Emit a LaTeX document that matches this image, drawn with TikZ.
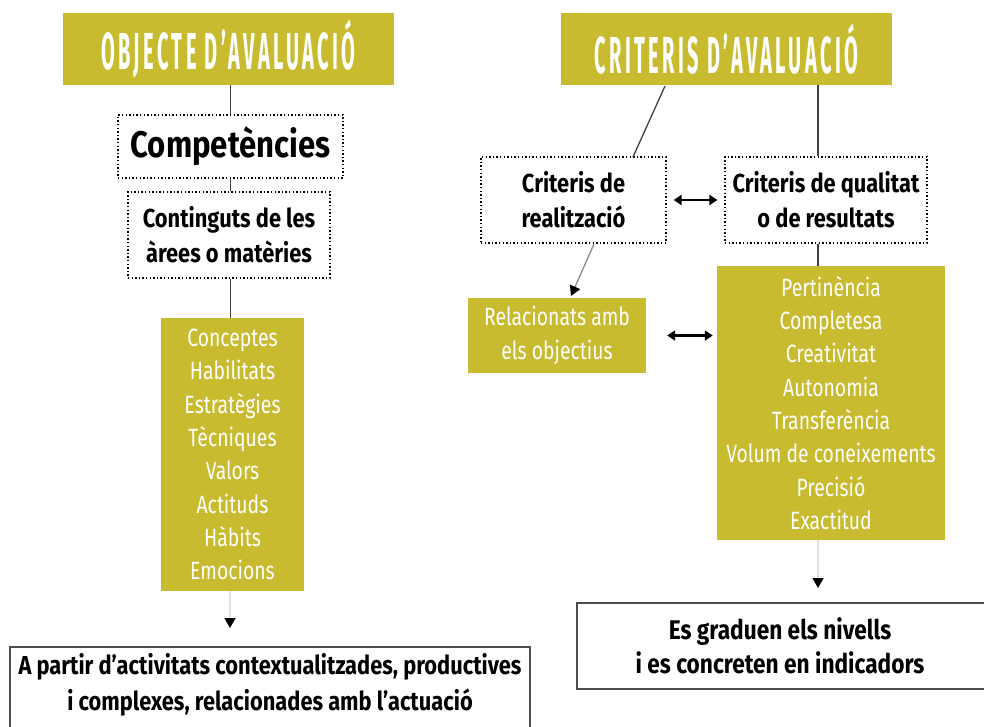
\documentclass[tikz,border=0pt]{standalone}
\usepackage{fontspec}
\setmainfont[FakeStretch=0.775]{Fira Sans}
\newfontfamily\boldfont[FakeStretch=0.84]{Fira Sans}
\newfontfamily\titlefont[FakeStretch=0.385, LetterSpace=6.5]{Fira Sans}
\usetikzlibrary{arrows.meta}
\definecolor{olive}{HTML}{C8BB2F}
\tikzset{
  titlebox/.style={fill=olive, minimum width=331pt, minimum height=72pt, inner sep=0pt,
    text=white, font=\titlefont\bfseries\fontsize{52}{52}\selectfont},
  dotbox/.style={draw, line width=1.3pt, dash pattern=on 1.4pt off 2.2pt, inner sep=0pt,
    align=center, font=\boldfont\bfseries\fontsize{26}{35}\selectfont},
  olivebox/.style={fill=olive, inner sep=0pt, text=white, align=center,
    font=\fontsize{25}{33.3}\selectfont},
  plainbox/.style={inner sep=0pt, align=center, font=\boldfont\bfseries\fontsize{26}{36}\selectfont},
  conn/.style={line width=1.3pt, draw=black!75},
  tip/.style={-{Triangle[length=10pt,width=11pt,color=black]}},
  dbl/.style={line width=2.2pt, {Triangle[length=8pt,width=10pt]}-{Triangle[length=8pt,width=10pt]}},
  boxline/.style={line width=1.2pt, draw=black!70}
}
\begin{document}
\begin{tikzpicture}[x=1pt,y=-1pt]
\useasboundingbox (0,0) rectangle (984,727);
% left column
\node[titlebox] (t1) at (228.5,49) {OBJECTE D’AVALUACIÓ};
\node[dotbox, minimum width=225pt, minimum height=63pt, font=\boldfont\bfseries\fontsize{37}{37}\selectfont] (comp) at (230.5,146.5) {Competències};
\node[dotbox, minimum width=202pt, minimum height=86pt] (cont) at (229,235) {Continguts de les\\àrees o matèries};
\node[olivebox, minimum width=143pt, minimum height=273pt] (list1) at (232.5,454.5) {Conceptes\\Habilitats\\Estratègies\\Tècniques\\Valors\\Actituds\\Hàbits\\Emocions};
\node[plainbox, minimum width=520pt, minimum height=70pt] (bot1) at (270,685) {A partir d’activitats contextualitzades, productives\\i complexes, relacionades amb l’actuació};
\coordinate (a1) at (230,628);
\draw[conn] (t1.south -| comp.north) -- (comp.north);
\draw[conn] (comp.south) -- (cont.north -| comp.south);
\draw[conn] (cont.south -| comp.south) -- (list1.north -| comp.south);
\draw[line width=1.3pt, draw=black!12, tip] (list1.south -| a1) -- (a1);
\draw[boxline] (10,727) -- (10,647) -- (530,647) -- (530,727);
% right column
\node[titlebox] (t2) at (726.5,49) {CRITERIS D’AVALUACIÓ};
\node[dotbox, minimum width=185pt, minimum height=86pt] (real) at (573.5,200) {Criteris de\\realització};
\node[dotbox, minimum width=202pt, minimum height=86pt] (qual) at (826,200) {Criteris de qualitat\\o de resultats};
\node[olivebox, minimum width=178pt, minimum height=75pt] (rel) at (557,335.5) {Relacionats amb\\els objectius};
\node[olivebox, minimum width=228pt, minimum height=274pt] (list2) at (831,403) {Pertinència\\Completesa\\Creativitat\\Autonomia\\Transferència\\Volum de coneixements\\Precisió\\Exactitud};
\node[plainbox, minimum width=407pt, minimum height=86pt, font=\boldfont\bfseries\fontsize{27}{34}\selectfont] (bot2) at (780,646) {Es graduen els nivells\\i es concreten en indicadors};
\coordinate (a2) at (818,588);
\coordinate (d1) at (665,86);
\coordinate (d2) at (633,157);
\coordinate (d3) at (594,244);
\coordinate (d4) at (571,296);
\draw[conn] (d1) -- (d2);
\draw[conn] (t2.south -| a2) -- (qual.north -| a2);
\draw[conn] (qual.south -| a2) -- (list2.north -| a2);
\draw[dbl] ([xshift=7pt]real.east) -- ([xshift=-7pt]qual.west);
\draw[dbl] ([xshift=21pt]rel.east) -- ([xshift=-4pt]list2.west |- rel.east);
\draw[line width=1.3pt, draw=black!45, tip] (d3) -- (d4);
\draw[line width=1.3pt, draw=black!12, tip] (list2.south -| a2) -- (a2);
\draw[boxline] (984,603) -- (577,603) -- (577,689) -- (984,689);
\end{tikzpicture}
\end{document}
